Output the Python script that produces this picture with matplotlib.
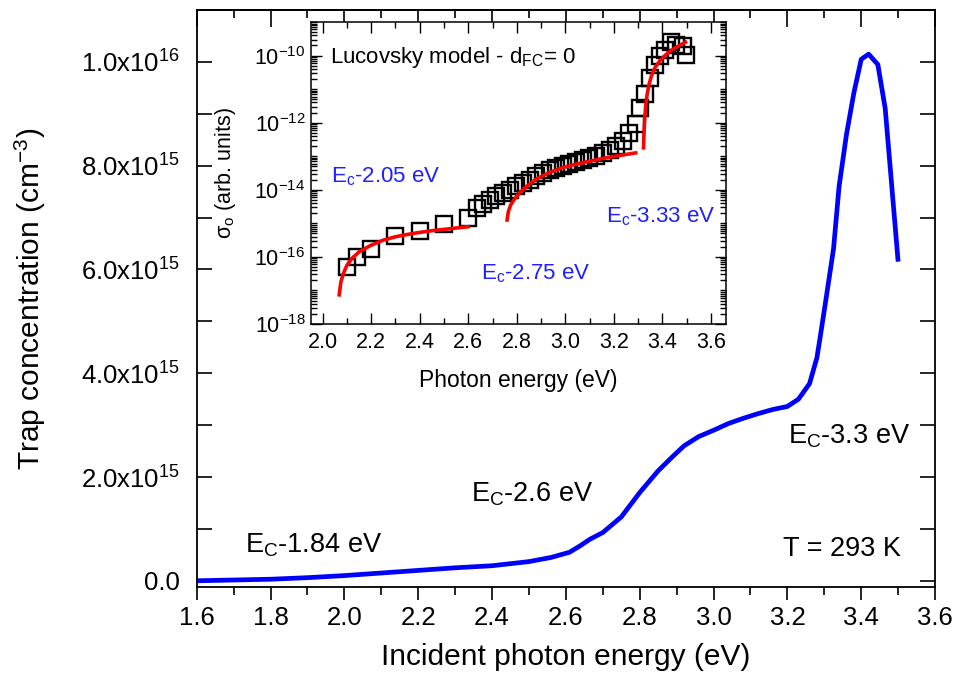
import matplotlib
matplotlib.use('Agg')
import matplotlib.pyplot as plt
import numpy as np
from matplotlib.ticker import MultipleLocator, FixedLocator, FuncFormatter, LogLocator, NullFormatter

plt.rcParams['font.family'] = ['Liberation Sans', 'DejaVu Sans']
plt.rcParams['mathtext.fontset'] = 'custom'
plt.rcParams['mathtext.rm'] = 'Liberation Sans'
plt.rcParams['mathtext.it'] = 'Liberation Sans:italic'
plt.rcParams['mathtext.default'] = 'regular'

# main curve: trap concentration vs incident photon energy
energy = [1.60, 1.70, 1.80, 1.90, 2.00, 2.10, 2.20, 2.30, 2.40, 2.50, 2.56, 2.61,
          2.64, 2.665, 2.70, 2.75, 2.80, 2.85, 2.89, 2.92, 2.96, 3.00, 3.04, 3.08,
          3.12, 3.16, 3.20, 3.23, 3.26, 3.28, 3.29, 3.305, 3.325, 3.34, 3.36, 3.38,
          3.40, 3.42, 3.445, 3.465, 3.50]
trap = [0.00, 0.015, 0.03, 0.06, 0.10, 0.15, 0.20, 0.25, 0.29, 0.37, 0.45, 0.55,
        0.68, 0.80, 0.93, 1.23, 1.70, 2.12, 2.40, 2.60, 2.78, 2.90, 3.03, 3.13,
        3.22, 3.30, 3.36, 3.50, 3.80, 4.30, 4.75, 5.45, 6.40, 7.60, 8.60, 9.40,
        10.05, 10.15, 9.95, 9.10, 6.15]  # x1e15 cm^-3

# inset: photoionisation cross section (log10 values)
sq_e = [2.10, 2.14, 2.20, 2.30, 2.40, 2.50, 2.60, 2.634, 2.661, 2.688, 2.716, 2.743,
        2.771, 2.798, 2.826, 2.853, 2.881, 2.908, 2.935, 2.963, 2.990, 3.017, 3.045,
        3.072, 3.099, 3.127, 3.154, 3.182, 3.209, 3.237, 3.264, 3.292, 3.306, 3.327,
        3.347, 3.368, 3.388, 3.409, 3.436, 3.457, 3.485, 3.497]
sq_log = [-16.29, -16.01, -15.77, -15.39, -15.24, -15.01, -14.85, -14.55, -14.42, -14.30,
          -14.20, -14.10, -14.00, -13.90, -13.80, -13.70, -13.60, -13.50, -13.42, -13.35,
          -13.28, -13.22, -13.16, -13.10, -13.04, -12.98, -12.90, -12.82, -12.70, -12.55,
          -12.31, -12.03, -11.56, -11.16, -10.67, -10.27, -10.02, -9.82, -9.60, -9.67,
          -9.72, -9.97]

fit1_e = [2.068, 2.075, 2.085, 2.10, 2.12, 2.15, 2.20, 2.25, 2.30, 2.35, 2.40, 2.45,
          2.50, 2.55, 2.60]
fit1_log = [-17.13, -16.75, -16.50, -16.25, -16.05, -15.85, -15.65, -15.50, -15.40,
            -15.33, -15.27, -15.22, -15.18, -15.14, -15.10]
fit2_e = [2.760, 2.765, 2.775, 2.79, 2.81, 2.84, 2.88, 2.93, 2.98, 3.03, 3.08, 3.13,
          3.18, 3.23, 3.29]
fit2_log = [-14.90, -14.65, -14.45, -14.28, -14.10, -13.90, -13.68, -13.50, -13.36,
            -13.26, -13.18, -13.10, -13.03, -12.97, -12.90]
fit3_e = [3.322, 3.324, 3.327, 3.331, 3.337, 3.345, 3.355, 3.37, 3.39, 3.41, 3.43,
          3.45, 3.47, 3.495]
fit3_log = [-12.75, -12.30, -11.90, -11.50, -11.15, -10.85, -10.60, -10.35, -10.15,
            -10.00, -9.88, -9.78, -9.70, -9.60]

fig = plt.figure(figsize=(9.62, 6.86), dpi=100)
ax = fig.add_axes([0.2045, 0.1443, 0.7675, 0.8411])

ax.plot(energy, np.array(trap) * 1e15, color='#0000ff', lw=3.4, solid_capstyle='butt')
ax.set_xlim(1.6, 3.6)
ax.set_ylim(-1.2e14, 1.1e16)

ax.xaxis.set_major_locator(MultipleLocator(0.2))
ax.xaxis.set_minor_locator(MultipleLocator(0.1))
ax.yaxis.set_major_locator(MultipleLocator(2e15))
ax.yaxis.set_minor_locator(MultipleLocator(1e15))
ax.xaxis.set_major_formatter(FuncFormatter(lambda v, p: f'{v:.1f}'))


def sci(v, pos):
    if v < -1e10:
        return ''
    if abs(v) < 1e10:
        return '0.0'
    e = int(np.floor(np.log10(v)))
    return f'{v / 10**e:.1f}x10$^{{{e}}}$'


ax.yaxis.set_major_formatter(FuncFormatter(sci))
ax.tick_params(axis='x', which='both', direction='out', top=False, labelsize=18.5, pad=5)
ax.tick_params(axis='x', which='major', length=9, width=1.2)
ax.tick_params(axis='x', which='minor', length=6, width=1.2)
ax.tick_params(axis='y', which='both', direction='in', right=True, labelsize=18.5, pad=12)
ax.tick_params(axis='y', which='major', length=11, width=1.2)
ax.tick_params(axis='y', which='minor', length=11, width=1.2)

top = ax.secondary_xaxis('top')
top.xaxis.set_major_locator(MultipleLocator(0.2))
top.xaxis.set_minor_locator(MultipleLocator(0.1))
top.tick_params(which='both', direction='in', labeltop=False, width=1.2)
top.tick_params(which='major', length=12)
top.tick_params(which='minor', length=6)

for sp in list(ax.spines.values()) + list(top.spines.values()):
    sp.set_linewidth(1.3)

ax.set_xlabel('Incident photon energy (eV)', fontsize=21.5, labelpad=9)
ax.set_ylabel('Trap concentration (cm$^{-3}$)', fontsize=21.5, labelpad=24)

ax.text(1.730, 0.054e16, 'E$_\\mathregular{C}$-1.84 eV', fontsize=19.5, va='baseline')
ax.text(2.343, 0.152e16, 'E$_\\mathregular{C}$-2.6 eV', fontsize=19.5, va='baseline')
ax.text(3.201, 0.264e16, 'E$_\\mathregular{C}$-3.3 eV', fontsize=19.5, va='baseline')
ax.text(3.188, 0.048e16, 'T = 293 K', fontsize=19.5, va='baseline')

# inset
ins = fig.add_axes([0.3233, 0.5277, 0.4314, 0.4402])
ins.plot(sq_e, 10 ** np.array(sq_log), ls='none', marker='s', ms=11.5, mfc='none',
         mec='black', mew=1.7)
for fe, fl in [(fit1_e, fit1_log), (fit2_e, fit2_log), (fit3_e, fit3_log)]:
    ins.plot(fe, 10 ** np.array(fl), color='#ff0000', lw=2.6)

ins.set_yscale('log')
ins.set_xlim(1.952, 3.662)
ins.set_ylim(1e-18, 1e-9)
ins.xaxis.set_major_locator(MultipleLocator(0.2))
ins.xaxis.set_minor_locator(MultipleLocator(0.1))
ins.xaxis.set_major_formatter(FuncFormatter(lambda v, p: f'{v:.1f}'))
ins.yaxis.set_major_locator(FixedLocator([1e-18, 1e-16, 1e-14, 1e-12, 1e-10]))
ins.yaxis.set_minor_locator(LogLocator(base=10, subs=np.arange(1, 10), numticks=100))
ins.yaxis.set_minor_formatter(NullFormatter())
ins.yaxis.set_major_formatter(FuncFormatter(lambda v, p: f'10$^{{{int(round(np.log10(v)))}}}$'))
ins.tick_params(which='both', direction='in', top=True, right=True, width=1.0)
ins.tick_params(which='major', length=8)
ins.tick_params(which='minor', length=4)
ins.tick_params(axis='x', labelsize=15.5, pad=6)
ins.tick_params(axis='y', labelsize=15.5, pad=4)
for sp in ins.spines.values():
    sp.set_linewidth(1.1)
ins.set_xlabel('Photon energy (eV)', fontsize=16.5, labelpad=11)
ins.set_ylabel('$\\sigma_\\mathregular{o}$ (arb. units)', fontsize=15.5, labelpad=12)

ins.text(2.03, 10 ** -10.22, 'Lucovsky model - d$_\\mathregular{FC}$= 0', fontsize=16, va='baseline')
blue = '#1f1fff'
ins.text(2.036, 10 ** -13.77, 'E$_\\mathregular{c}$-2.05 eV', fontsize=16, color=blue, va='baseline')
ins.text(2.654, 10 ** -16.66, 'E$_\\mathregular{c}$-2.75 eV', fontsize=16, color=blue, va='baseline')
ins.text(3.166, 10 ** -14.98, 'E$_\\mathregular{c}$-3.33 eV', fontsize=16, color=blue, va='baseline')

fig.savefig('out.png', dpi=100)
